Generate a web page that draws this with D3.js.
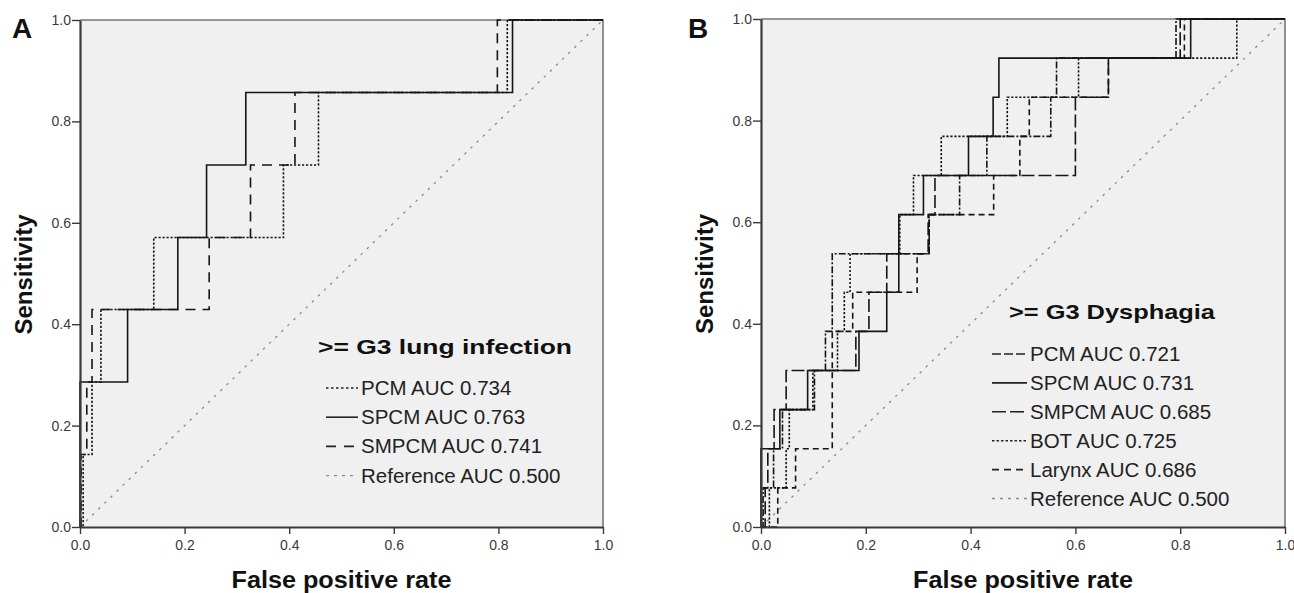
<!DOCTYPE html>
<html>
<head>
<meta charset="utf-8">
<script src="https://cdn.jsdelivr.net/npm/d3@7/dist/d3.min.js"></script>
<style>
	body { margin: 0; background: #ffffff; }
	svg text { font-family: Arial, 'Liberation Sans', sans-serif; }
</style>
</head>
<body>
<div id="chartContainer"></div>
<script>
// Tick Values shared by both Axes
var tickValues = [0.0, 0.2, 0.4, 0.6, 0.8, 1.0];

// Panel A: >= G3 lung infection, ROC corner points [fpr, sensitivity]
var lungTitle = '>= G3 lung infection';
var lungPCM = [[0, 0], [0.006, 0.143], [0.023, 0.286], [0.040, 0.429], [0.141, 0.571], [0.389, 0.714], [0.456, 0.857], [0.817, 1.0], [1, 1.0]];
var lungSPCM = [[0, 0], [0, 0.286], [0.091, 0.429], [0.187, 0.571], [0.242, 0.714], [0.317, 0.857], [0.827, 1.0], [1, 1.0]];
var lungSMPCM = [[0, 0], [0.002, 0.143], [0.013, 0.286], [0.023, 0.429], [0.247, 0.571], [0.326, 0.714], [0.411, 0.857], [0.798, 1.0], [1, 1.0]];
var lungLabels = ['PCM AUC 0.734', 'SPCM AUC 0.763', 'SMPCM AUC 0.741', 'Reference AUC 0.500'];

// Panel B: >= G3 Dysphagia
var dysTitle = '>= G3 Dysphagia';
var dysPCM = [[0, 0], [0.004, 0.077], [0.024, 0.154], [0.041, 0.231], [0.102, 0.308], [0.123, 0.385], [0.136, 0.538], [0.321, 0.615], [0.379, 0.692], [0.431, 0.769], [0.553, 0.846], [0.564, 0.923], [0.792, 1.0], [1, 1.0]];
var dysSPCM = [[0, 0], [0, 0.154], [0.036, 0.231], [0.089, 0.308], [0.187, 0.385], [0.240, 0.462], [0.263, 0.615], [0.310, 0.692], [0.396, 0.769], [0.443, 0.846], [0.454, 0.923], [0.820, 1.0], [1, 1.0]];
var dysSMPCM = [[0, 0], [0.008, 0.077], [0.013, 0.154], [0.025, 0.231], [0.048, 0.308], [0.181, 0.385], [0.206, 0.462], [0.240, 0.538], [0.319, 0.615], [0.332, 0.692], [0.600, 0.846], [0.663, 0.923], [0.800, 1.0], [1, 1.0]];
var dysBOT = [[0, 0], [0.016, 0.077], [0.048, 0.154], [0.054, 0.231], [0.099, 0.308], [0.146, 0.385], [0.159, 0.462], [0.170, 0.538], [0.265, 0.615], [0.291, 0.692], [0.344, 0.769], [0.470, 0.846], [0.606, 0.923], [0.908, 1.0], [1, 1.0]];
var dysLarynx = [[0, 0], [0.032, 0.077], [0.066, 0.154], [0.136, 0.385], [0.175, 0.462], [0.298, 0.538], [0.321, 0.615], [0.444, 0.692], [0.494, 0.769], [0.512, 0.846], [0.663, 0.923], [0.808, 1.0], [1, 1.0]];
var dysLabels = ['PCM AUC 0.721', 'SPCM AUC 0.731', 'SMPCM AUC 0.685', 'BOT AUC 0.725', 'Larynx AUC 0.686', 'Reference AUC 0.500'];

// Reference Line
var reference = [[0, 0], [1, 1]];

var total_width = 1294;
var total_height = 593;

var svg = d3.select('#chartContainer')
	.append('svg')
	.attr('width', total_width)
	.attr('height', total_height);

// Layout and Line Styles for both Panels
var panels = [
	{
		letter: 'A', letterX: 12,
		left: 80, top: 20, width: 523, height: 507,
		ylabelX: 32,
		title: lungTitle, titleX: 318, titleY: 354, titleLen: 254,
		legendX: 326, sampleLen: 32, legendY: 388, legendStep: 29.2,
		series: [
			{ data: lungPCM, dash: '2.2,1.8', legendDash: '2.5,2.5' },
			{ data: lungSPCM, dash: null, legendDash: null },
			{ data: lungSMPCM, dash: '10,7', legendDash: '10,8' }
		],
		labels: lungLabels
	},
	{
		letter: 'B', letterX: 688,
		left: 761, top: 19, width: 524, height: 508,
		ylabelX: 713,
		title: dysTitle, titleX: 1009, titleY: 319, titleLen: 206,
		legendX: 992, sampleLen: 35, legendY: 354, legendStep: 28.9,
		series: [
			{ data: dysPCM, dash: '7,2,2,2', legendDash: '9,3' },
			{ data: dysSPCM, dash: null, legendDash: null },
			{ data: dysSMPCM, dash: '13,4', legendDash: '14,4' },
			{ data: dysBOT, dash: '2.2,1.8', legendDash: '2.5,2' },
			{ data: dysLarynx, dash: '6,4', legendDash: '7,5' }
		],
		labels: dysLabels
	}
];

panels.forEach(function(p) {
	var x_scale = d3.scaleLinear().domain([0, 1]).range([0, p.width]);
	var y_scale = d3.scaleLinear().domain([0, 1]).range([p.height, 0]);

	var g = svg.append('g')
		.attr('transform', 'translate(' + p.left + ',' + p.top + ')');

	// Plot Background
	g.append('rect')
		.attr('x', 0)
		.attr('y', 0)
		.attr('width', p.width)
		.attr('height', p.height)
		.attr('fill', '#f0f0f0');

	// Top and Right Border
	g.append('path')
		.attr('d', 'M0,0H' + p.width + 'V' + p.height)
		.attr('fill', 'none')
		.attr('stroke', '#777')
		.attr('stroke-width', 1.6);

	// Reference Diagonal
	var line = d3.line()
		.x(function(d) { return x_scale(d[0]); })
		.y(function(d) { return y_scale(d[1]); });

	g.append('path')
		.datum(reference)
		.attr('d', line)
		.attr('fill', 'none')
		.attr('stroke', '#8a8a8a')
		.attr('stroke-width', 1.3)
		.attr('stroke-dasharray', '2.5,6');

	// ROC Step Curves
	var stepLine = d3.line()
		.x(function(d) { return x_scale(d[0]); })
		.y(function(d) { return y_scale(d[1]); })
		.curve(d3.curveStepAfter);

	g.selectAll('.roc')
		.data(p.series)
		.enter()
		.append('path')
		.attr('class', 'roc')
		.attr('d', function(d) { return stepLine(d.data); })
		.attr('fill', 'none')
		.attr('stroke', '#151515')
		.attr('stroke-width', 1.6)
		.attr('stroke-dasharray', function(d) { return d.dash; });

	// Axes
	var xAxis = g.append('g')
		.attr('transform', 'translate(0,' + p.height + ')')
		.call(d3.axisBottom(x_scale).tickValues(tickValues).tickFormat(d3.format('.1f')).tickSizeInner(7).tickSizeOuter(0).tickPadding(6));
	var yAxis = g.append('g')
		.call(d3.axisLeft(y_scale).tickValues(tickValues).tickFormat(d3.format('.1f')).tickSizeInner(8).tickSizeOuter(0).tickPadding(1));

	[xAxis, yAxis].forEach(function(a) {
		a.attr('font-size', 14);
		a.select('.domain').attr('stroke', '#3a3a3a').attr('stroke-width', 2.2);
		a.selectAll('.tick line').attr('stroke', '#3a3a3a').attr('stroke-width', 1.4);
		a.selectAll('.tick text')
			.attr('fill', '#3a3a3a')
			.style('font-size', '14px')
			.style('font-family', "Arial, 'Liberation Sans', sans-serif");
	});

	// Axis Titles
	svg.append('text')
		.attr('x', p.left + p.width / 2)
		.attr('y', 588)
		.attr('text-anchor', 'middle')
		.attr('textLength', 220)
		.attr('lengthAdjust', 'spacingAndGlyphs')
		.style('font-size', '23px')
		.style('font-weight', 'bold')
		.attr('fill', '#111')
		.text('False positive rate');

	svg.append('text')
		.attr('transform', 'translate(' + p.ylabelX + ',' + (p.top + p.height / 2 + 1) + ') rotate(-90)')
		.attr('text-anchor', 'middle')
		.style('font-size', '24px')
		.style('font-weight', 'bold')
		.attr('fill', '#111')
		.text('Sensitivity');

	// Panel Letter
	svg.append('text')
		.attr('x', p.letterX)
		.attr('y', 38)
		.style('font-size', '28px')
		.style('font-weight', 'bold')
		.attr('fill', '#111')
		.text(p.letter);

	// Legend
	svg.append('text')
		.attr('x', p.titleX)
		.attr('y', p.titleY)
		.attr('textLength', p.titleLen)
		.attr('lengthAdjust', 'spacingAndGlyphs')
		.style('font-size', '21px')
		.style('font-weight', 'bold')
		.attr('fill', '#111')
		.text(p.title);

	var legendItems = p.series.map(function(s) {
		return { dash: s.legendDash, color: '#222', width: 1.6 };
	});
	legendItems.push({ dash: '3,5', color: '#8a8a8a', width: 1.3 });

	var legend = svg.append('g');
	legend.selectAll('.legendline')
		.data(legendItems)
		.enter()
		.append('line')
		.attr('class', 'legendline')
		.attr('x1', p.legendX)
		.attr('x2', p.legendX + p.sampleLen)
		.attr('y1', function(d, i) { return p.legendY + i * p.legendStep; })
		.attr('y2', function(d, i) { return p.legendY + i * p.legendStep; })
		.attr('stroke', function(d) { return d.color; })
		.attr('stroke-width', function(d) { return d.width; })
		.attr('stroke-dasharray', function(d) { return d.dash; });

	legend.selectAll('.legendtext')
		.data(p.labels)
		.enter()
		.append('text')
		.attr('class', 'legendtext')
		.attr('x', p.legendX + p.sampleLen + 3)
		.attr('y', function(d, i) { return p.legendY + i * p.legendStep + 7; })
		.style('font-size', '20.5px')
		.attr('fill', '#222')
		.text(function(d) { return d; });
});
</script>
</body>
</html>
